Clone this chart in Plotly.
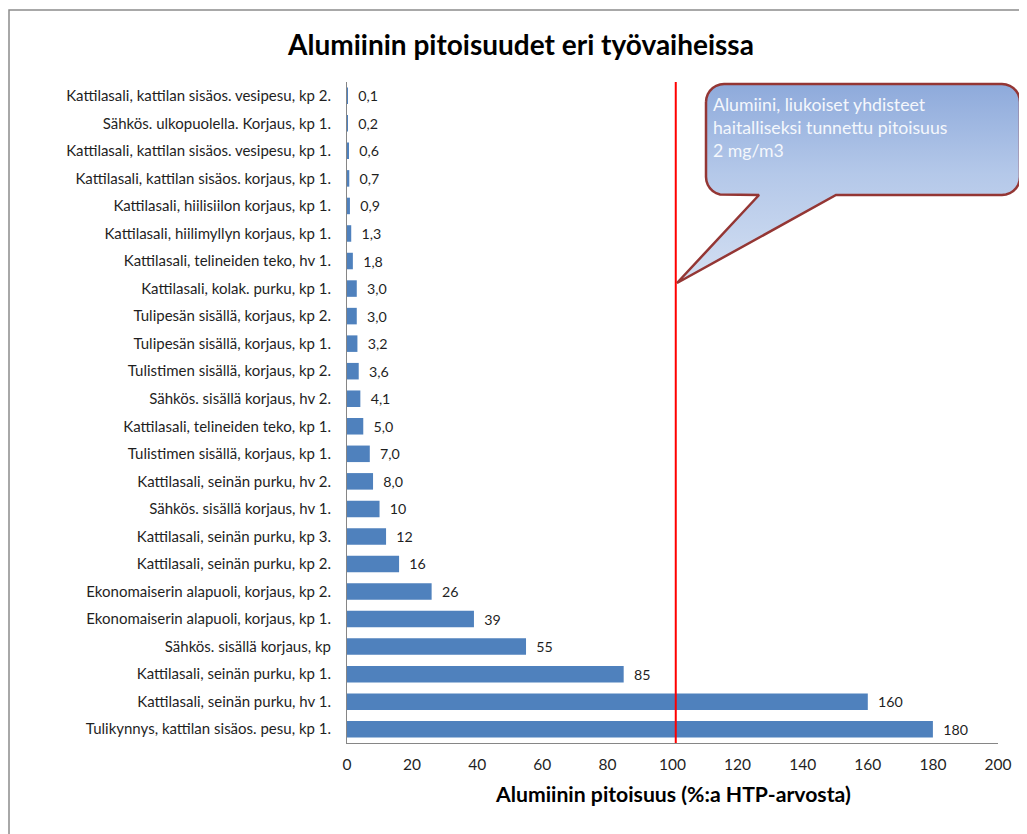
import numpy as np
import plotly.graph_objects as go

# data, top to bottom as in the chart
tyovaiheet = [
    "Kattilasali, kattilan sisäos. vesipesu, kp 2.",
    "Sähkös. ulkopuolella. Korjaus, kp 1.",
    "Kattilasali, kattilan sisäos. vesipesu, kp 1.",
    "Kattilasali, kattilan sisäos. korjaus, kp 1.",
    "Kattilasali, hiilisiilon korjaus, kp 1.",
    "Kattilasali, hiilimyllyn korjaus, kp 1.",
    "Kattilasali, telineiden teko, hv 1.",
    "Kattilasali, kolak. purku, kp 1.",
    "Tulipesän sisällä, korjaus, kp 2.",
    "Tulipesän sisällä, korjaus, kp 1.",
    "Tulistimen sisällä, korjaus, kp 2.",
    "Sähkös. sisällä korjaus, hv 2.",
    "Kattilasali, telineiden teko, kp 1.",
    "Tulistimen sisällä, korjaus, kp 1.",
    "Kattilasali, seinän purku, hv 2.",
    "Sähkös. sisällä korjaus, hv 1.",
    "Kattilasali, seinän purku, kp 3.",
    "Kattilasali, seinän purku, kp 2.",
    "Ekonomaiserin alapuoli, korjaus, kp 2.",
    "Ekonomaiserin alapuoli, korjaus, kp 1.",
    "Sähkös. sisällä korjaus, kp",
    "Kattilasali, seinän purku, kp 1.",
    "Kattilasali, seinän purku, hv 1.",
    "Tulikynnys, kattilan sisäos. pesu, kp 1.",
]
pitoisuus = [0.1, 0.2, 0.6, 0.7, 0.9, 1.3, 1.8, 3.0, 3.0, 3.2, 3.6, 4.1, 5.0,
             7.0, 8.0, 10, 12, 16, 26, 39, 55, 85, 160, 180]
x_ticks = [0, 20, 40, 60, 80, 100, 120, 140, 160, 180, 200]
raja_arvo = 101  # red line (drawn just right of 100 in the original)
selite = "Alumiini, liukoiset yhdisteet<br>haitalliseksi tunnettu pitoisuus<br>2 mg/m3"

# labels like Excel: one decimal with comma below 10
labels = [(f"{v:.1f}".replace(".", ",") if v < 10 else f"{v:.0f}") for v in pitoisuus]

W, H = 1027, 834
OFF = 8  # page body margin shifts the figure by 8px
def px(v):
    return v - OFF

left, right, top, bottom = px(347), px(998), px(82), px(743)
FONT = "Lato"

fig = go.Figure()
fig.add_trace(go.Bar(
    y=tyovaiheet, x=pitoisuus, orientation="h",
    marker=dict(color="#4f81bd", line=dict(width=0)),
    width=0.6,
    text=["  " + s for s in labels], textposition="outside",
    textfont=dict(family=FONT, size=15.5, color="#1f1f1f"),
    cliponaxis=False, hoverinfo="x+y",
))

# speech bubble, in pixel coords on an overlay axis covering the whole page
def bubble(x0, x1, y0, y1, r, base_l, base_r, tip):
    pts = []
    def arc(cx, cy, a0, a1):
        for a in np.linspace(a0, a1, 8):
            pts.append((cx + r * np.cos(a), cy + r * np.sin(a)))
    # y measured downward here, converted afterwards
    arc(x0 + r, y0 + r, np.pi, 1.5 * np.pi)
    arc(x1 - r, y0 + r, 1.5 * np.pi, 2 * np.pi)
    arc(x1 - r, y1 - r, 0, 0.5 * np.pi)
    pts.append((base_r, y1))
    pts.append(tip)
    pts.append((base_l, y1))
    arc(x0 + r, y1 - r, 0.5 * np.pi, np.pi)
    pts.append(pts[0])
    xs = [px(p[0]) for p in pts]
    ys = [H - px(p[1]) for p in pts]
    return xs, ys

bx, by = bubble(706, 1020, 84, 195, 18, 759, 836, (677, 283))
fig.add_trace(go.Scatter(
    x=bx, y=by, xaxis="x2", yaxis="y2", mode="lines", fill="toself",
    fillgradient=dict(type="vertical",
                      colorscale=[[0, "#d3dff2"], [0.55, "#b4c8e9"], [1, "#8eaadb"]]),
    line=dict(color="#943634", width=2.5), hoverinfo="skip", showlegend=False,
))

fig.add_shape(type="line", xref="x", yref="y domain", x0=raja_arvo, x1=raja_arvo,
              y0=0, y1=1, line=dict(color="#ff0000", width=2))

# outer chart frame
fig.add_shape(type="rect", xref="paper", yref="paper", x0=1 / W, x1=1.05,
              y0=-0.05, y1=(H - px(10)) / H, line=dict(color="#8c8c8c", width=1.5),
              layer="below")

fig.add_annotation(xref="paper", yref="paper", x=px(711) / W, y=(H - px(92)) / H,
                   xanchor="left", yanchor="top", align="left", showarrow=False,
                   text=selite, font=dict(family=FONT, size=17.7, color="#f4f7fc"))
fig.add_annotation(xref="paper", yref="paper", x=px(673) / W, y=(H - px(794)) / H,
                   xanchor="center", yanchor="middle", showarrow=False,
                   text="<b>Alumiinin pitoisuus (%:a HTP-arvosta)</b>",
                   font=dict(family=FONT, size=21.2, color="#000000"))

fig.update_layout(
    width=W, height=H, margin=dict(l=0, r=0, t=0, b=0, autoexpand=False),
    paper_bgcolor="white", plot_bgcolor="rgba(0,0,0,0)",
    showlegend=False, bargap=0.4,
    title=dict(text="<b>Alumiinin pitoisuudet eri työvaiheissa</b>",
               x=px(521) / W, xanchor="center", y=(H - px(45)) / H, yanchor="middle",
               yref="container", automargin=False,
               font=dict(family=FONT, size=28, color="#000000")),
    font=dict(family=FONT, color="#1f1f1f"),
    xaxis=dict(domain=[left / W, right / W], range=[0, 200], tickvals=x_ticks,
               showgrid=False, zeroline=False, showline=True, linecolor="#868686",
               linewidth=1, ticks="", ticklabelstandoff=7, automargin=False,
               tickfont=dict(family=FONT, size=15.5, color="#1f1f1f"), fixedrange=True),
    yaxis=dict(domain=[(H - bottom) / H, (H - top) / H], autorange="reversed",
               showgrid=False, zeroline=False, showline=True, linecolor="#868686",
               linewidth=1, ticks="", ticklabelstandoff=12, automargin=False,
               tickfont=dict(family=FONT, size=15, color="#1f1f1f"), fixedrange=True),
    xaxis2=dict(domain=[0, 1], range=[0, W], anchor="y2", visible=False,
                fixedrange=True, automargin=False),
    yaxis2=dict(domain=[0, 1], range=[0, H], anchor="x2", visible=False,
                fixedrange=True, automargin=False),
)

fig.write_html("out.html")
